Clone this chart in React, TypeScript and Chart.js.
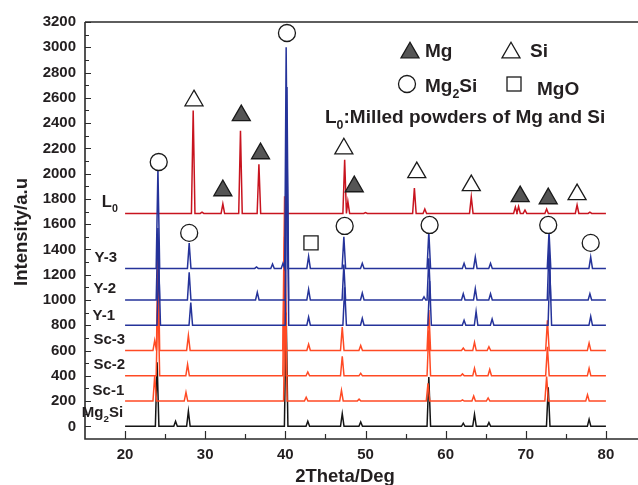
import React, { useEffect, useRef } from 'react';
import { Chart, registerables } from 'chart.js';

Chart.register(...registerables);

// ---------- data ----------
const X_TICKS = [20, 30, 40, 50, 60, 70, 80];
const Y_TICKS = [0, 200, 400, 600, 800, 1000, 1200, 1400, 1600, 1800, 2000, 2200, 2400, 2600, 2800, 3000, 3200];

// [2theta, intensity at peak apex]
const L0_BASE = 1685;
const L0_PEAKS = [[28.5, 2500], [29.6, 1695], [32.2, 1760], [34.4, 2340], [36.7, 2075], [47.4, 2110], [47.8, 1780], [50.0, 1692], [56.1, 1885], [57.4, 1720], [63.2, 1815], [68.7, 1735], [69.1, 1740], [69.9, 1712], [72.6, 1720], [76.4, 1752], [78.0, 1695]];

const Y3_BASE = 1250;
const Y3_PEAKS = [[24.1, 2040], [28.0, 1450], [36.4, 1262], [38.4, 1285], [39.7, 1290], [40.1, 3000], [42.9, 1345], [47.3, 1500], [49.6, 1290], [57.9, 1540], [62.3, 1290], [63.7, 1340], [65.6, 1290], [72.9, 1540], [78.1, 1340]];

const Y2_BASE = 1000;
const Y2_PEAKS = [[24.1, 1570], [28.0, 1220], [36.5, 1060], [40.2, 2685], [42.9, 1085], [47.3, 1280], [49.6, 1055], [57.3, 1025], [57.9, 1330], [62.2, 1050], [63.7, 1090], [65.6, 1050], [72.9, 1420], [78.0, 1050]];

const Y1_BASE = 800;
const Y1_PEAKS = [[24.2, 1300], [28.2, 980], [40.2, 2300], [42.9, 865], [47.4, 1100], [49.6, 855], [58.0, 1150], [62.3, 840], [63.8, 910], [65.8, 850], [73.0, 1250], [78.1, 870]];

const SC3_BASE = 600;
const SC3_PEAKS = [[23.7, 680], [24.1, 1450], [27.9, 720], [39.9, 1820], [42.9, 650], [47.1, 785], [49.4, 640], [57.9, 920], [62.2, 620], [63.6, 665], [65.4, 630], [72.7, 840], [77.9, 660]];

const SC2_BASE = 400;
const SC2_PEAKS = [[24.1, 1050], [27.8, 490], [39.9, 1500], [42.8, 430], [47.1, 555], [49.4, 420], [57.9, 760], [62.1, 415], [63.6, 460], [65.5, 450], [72.7, 630], [77.9, 460]];

const SC1_BASE = 200;
const SC1_PEAKS = [[23.7, 400], [27.6, 270], [40.0, 1200], [42.6, 230], [47.0, 285], [49.2, 215], [57.8, 340], [62.1, 210], [63.5, 240], [65.3, 225], [72.6, 395], [77.7, 250]];

const MG2SI_BASE = 0;
const MG2SI_PEAKS = [[24.0, 507], [26.3, 40], [27.9, 120], [40.1, 900], [42.8, 40], [47.1, 100], [49.4, 35], [57.9, 390], [62.2, 25], [63.6, 95], [65.4, 30], [72.8, 310], [77.9, 55]];

// phase markers [2theta, intensity]
const MG_MARKS = [[32.2, 1866], [34.5, 2460], [36.9, 2159], [48.6, 1898], [69.3, 1819], [72.8, 1803]];
const SI_MARKS = [[28.6, 2578], [47.3, 2198], [56.4, 2009], [63.2, 1906], [76.4, 1835]];
const MG2SI_MARKS = [[24.2, 2092], [28.0, 1531], [40.2, 3113], [47.4, 1586], [58.0, 1594], [72.8, 1594], [78.1, 1452]];
const MGO_MARKS = [[43.2, 1452]];

// series labels: [text, right-edge 2theta, intensity]
const SERIES_LABELS: [string, number, number][] = [
  ['Y-3', 19.0, 1333],
  ['Y-2', 18.87, 1087],
  ['Y-1', 18.75, 874],
  ['Sc-3', 20.0, 684],
  ['Sc-2', 20.0, 486],
  ['Sc-1', 19.9, 280],
];

// ---------- helpers ----------
const FONT = '"Liberation Sans", Arial, Helvetica, sans-serif';
const BLUE = '#25339a';
const ORANGE = '#ff4a24';
const CRIMSON = '#c8141f';
const BLACK = '#151515';

function trace(base: number, peaks: number[][]) {
  const pts: { x: number; y: number }[] = [{ x: 20, y: base }];
  for (const [c, h] of peaks) {
    pts.push({ x: c - 0.22, y: base }, { x: c, y: h }, { x: c + 0.22, y: base });
  }
  pts.push({ x: 80, y: base });
  return pts;
}

function toPts(arr: number[][]) {
  return arr.map(([x, y]) => ({ x, y }));
}

type Part = { t: string; sub?: boolean };

function richWidth(ctx: CanvasRenderingContext2D, parts: Part[], size: number) {
  let w = 0;
  for (const p of parts) {
    ctx.font = `bold ${p.sub ? size * 0.65 : size}px ${FONT}`;
    w += ctx.measureText(p.t).width;
  }
  return w;
}

function drawRich(ctx: CanvasRenderingContext2D, parts: Part[], x: number, y: number, size: number, align: 'left' | 'right' = 'left') {
  let cx = align === 'right' ? x - richWidth(ctx, parts, size) : x;
  ctx.textAlign = 'left';
  for (const p of parts) {
    const s = p.sub ? size * 0.65 : size;
    ctx.font = `bold ${s}px ${FONT}`;
    ctx.fillText(p.t, cx, p.sub ? y + size * 0.3 : y);
    cx += ctx.measureText(p.t).width;
  }
}

function tri(ctx: CanvasRenderingContext2D, cx: number, cy: number, r: number, fill: string) {
  ctx.beginPath();
  ctx.moveTo(cx, cy - r);
  ctx.lineTo(cx + r * Math.sin((2 * Math.PI) / 3), cy - r * Math.cos((2 * Math.PI) / 3));
  ctx.lineTo(cx + r * Math.sin((4 * Math.PI) / 3), cy - r * Math.cos((4 * Math.PI) / 3));
  ctx.closePath();
  ctx.fillStyle = fill;
  ctx.fill();
  ctx.lineWidth = 1.3;
  ctx.strokeStyle = '#1a1a1a';
  ctx.stroke();
}

const overlay = {
  id: 'overlay',
  afterDraw(chart: any) {
    const { ctx, chartArea: a, scales } = chart;
    const xs = scales.x;
    const ys = scales.y;
    ctx.save();
    // frame
    ctx.strokeStyle = '#2a2a2a';
    ctx.lineWidth = 1.6;
    ctx.beginPath();
    ctx.moveTo(a.left, a.top);
    ctx.lineTo(a.left, a.bottom);
    ctx.lineTo(a.right, a.bottom);
    ctx.moveTo(a.left, a.top);
    ctx.lineTo(a.right, a.top);
    ctx.stroke();
    // inward ticks
    ctx.lineWidth = 1.2;
    ctx.beginPath();
    for (let v = 0; v <= 3200; v += 100) {
      const py = Math.round(ys.getPixelForValue(v)) + 0.5;
      ctx.moveTo(a.left, py);
      ctx.lineTo(a.left + (v % 200 === 0 ? 6 : 4), py);
    }
    for (let v = 20; v <= 80; v += 5) {
      const px = Math.round(xs.getPixelForValue(v)) + 0.5;
      ctx.moveTo(px, a.bottom);
      ctx.lineTo(px, a.bottom - (v % 10 === 0 ? 8 : 5));
    }
    ctx.stroke();

    ctx.fillStyle = '#231f20';
    // axis titles
    ctx.save();
    ctx.translate(22, 232);
    ctx.rotate(-Math.PI / 2);
    ctx.textAlign = 'center';
    ctx.textBaseline = 'middle';
    ctx.font = `bold 18.5px ${FONT}`;
    ctx.fillText('Intensity/a.u', 0, 0);
    ctx.restore();
    ctx.textAlign = 'center';
    ctx.textBaseline = 'middle';
    ctx.font = `bold 18.5px ${FONT}`;
    ctx.fillText('2Theta/Deg', 345, 477);

    // series labels
    ctx.textBaseline = 'middle';
    for (const [t, x, y] of SERIES_LABELS) {
      ctx.font = `bold 15px ${FONT}`;
      ctx.textAlign = 'right';
      ctx.fillText(t, xs.getPixelForValue(x), ys.getPixelForValue(y));
    }
    ctx.textBaseline = 'alphabetic';
    drawRich(ctx, [{ t: 'Mg' }, { t: '2', sub: true }, { t: 'Si' }], xs.getPixelForValue(19.75), ys.getPixelForValue(74), 15, 'right');
    drawRich(ctx, [{ t: 'L' }, { t: '0', sub: true }], xs.getPixelForValue(17.1), ys.getPixelForValue(1736), 16.5, 'left');

    // legend
    const L = a.left;
    const T = a.top;
    tri(ctx, L + 325, T + 30.6, 10.4, '#555555');
    ctx.fillStyle = '#231f20';
    drawRich(ctx, [{ t: 'Mg' }], L + 340, T + 35, 19);
    tri(ctx, L + 426, T + 30.6, 10.4, '#ffffff');
    ctx.fillStyle = '#231f20';
    drawRich(ctx, [{ t: 'Si' }], L + 445, T + 35, 19);
    ctx.beginPath();
    ctx.arc(L + 322, T + 62, 8.5, 0, Math.PI * 2);
    ctx.fillStyle = '#fff';
    ctx.fill();
    ctx.lineWidth = 1.3;
    ctx.strokeStyle = '#1a1a1a';
    ctx.stroke();
    ctx.fillStyle = '#231f20';
    drawRich(ctx, [{ t: 'Mg' }, { t: '2', sub: true }, { t: 'Si' }], L + 340, T + 70, 19);
    ctx.fillStyle = '#fff';
    ctx.fillRect(L + 422, T + 55, 14, 14);
    ctx.strokeRect(L + 422, T + 55, 14, 14);
    ctx.fillStyle = '#231f20';
    drawRich(ctx, [{ t: 'MgO' }], L + 452, T + 73, 19);
    drawRich(ctx, [{ t: 'L' }, { t: '0', sub: true }, { t: ':Milled powders of Mg and Si' }], L + 240, T + 101, 19);
    ctx.restore();
  },
};

export default function App() {
  const ref = useRef<HTMLCanvasElement | null>(null);
  useEffect(() => {
    if (!ref.current) return;
    const line = (label: string, base: number, peaks: number[][], color: string, order: number) => ({
      label,
      data: trace(base, peaks),
      showLine: true,
      borderColor: color,
      borderWidth: 1.5,
      pointRadius: 0,
      tension: 0,
      order,
    });
    const marks = (label: string, arr: number[][], style: string, r: number, bg: string) => ({
      label,
      data: toPts(arr),
      showLine: false,
      pointStyle: style,
      pointRadius: r,
      pointBackgroundColor: bg,
      pointBorderColor: '#1a1a1a',
      pointBorderWidth: 1.3,
      clip: false,
      order: 0,
    });
    const chart = new Chart(ref.current, {
      type: 'scatter',
      data: {
        datasets: [
          marks('Mg', MG_MARKS, 'triangle', 10.4, '#555555'),
          marks('Si', SI_MARKS, 'triangle', 10.4, '#ffffff'),
          marks('Mg2Si', MG2SI_MARKS, 'circle', 8.5, '#ffffff'),
          marks('MgO', MGO_MARKS, 'rect', 10, '#ffffff'),
          line('Y-3', Y3_BASE, Y3_PEAKS, BLUE, 1),
          line('Y-2', Y2_BASE, Y2_PEAKS, BLUE, 2),
          line('Y-1', Y1_BASE, Y1_PEAKS, BLUE, 3),
          line('Sc-3', SC3_BASE, SC3_PEAKS, ORANGE, 4),
          line('Sc-2', SC2_BASE, SC2_PEAKS, ORANGE, 5),
          line('Sc-1', SC1_BASE, SC1_PEAKS, ORANGE, 6),
          line('Mg2Si', MG2SI_BASE, MG2SI_PEAKS, BLACK, 7),
          line('L0', L0_BASE, L0_PEAKS, CRIMSON, 8),
        ] as any,
      },
      options: {
        animation: false,
        responsive: false,
        devicePixelRatio: 1,
        layout: { padding: { top: 22, right: 14, left: 0, bottom: 0 } },
        plugins: { legend: { display: false }, tooltip: { enabled: false } },
        scales: {
          x: {
            type: 'linear',
            min: 15,
            max: 85,
            afterFit: (s: any) => {
              s.height = 46;
            },
            afterBuildTicks: (s: any) => {
              s.ticks = X_TICKS.map((v) => ({ value: v }));
            },
            grid: { display: false, drawTicks: false },
            border: { display: false },
            ticks: {
              autoSkip: false,
              maxRotation: 0,
              padding: 7,
              color: '#231f20',
              font: { family: FONT, size: 15, weight: 'bold' },
              callback: (v: any) => String(v),
            },
          },
          y: {
            type: 'linear',
            min: -100,
            max: 3200,
            afterFit: (s: any) => {
              s.width = 85;
            },
            afterBuildTicks: (s: any) => {
              s.ticks = Y_TICKS.map((v) => ({ value: v }));
            },
            grid: { display: false, drawTicks: false },
            border: { display: false },
            ticks: {
              autoSkip: false,
              padding: 9,
              color: '#231f20',
              font: { family: FONT, size: 15, weight: 'bold' },
              callback: (v: any) => String(v),
            },
          },
        },
      } as any,
      plugins: [overlay],
    });
    return () => chart.destroy();
  }, []);
  return (
    <div style={{ position: 'absolute', left: 0, top: 0, width: 638, height: 485, overflow: 'hidden', background: '#fff' }}>
      <canvas ref={ref} width={660} height={485} style={{ width: 660, height: 485, display: 'block' }} />
    </div>
  );
}
